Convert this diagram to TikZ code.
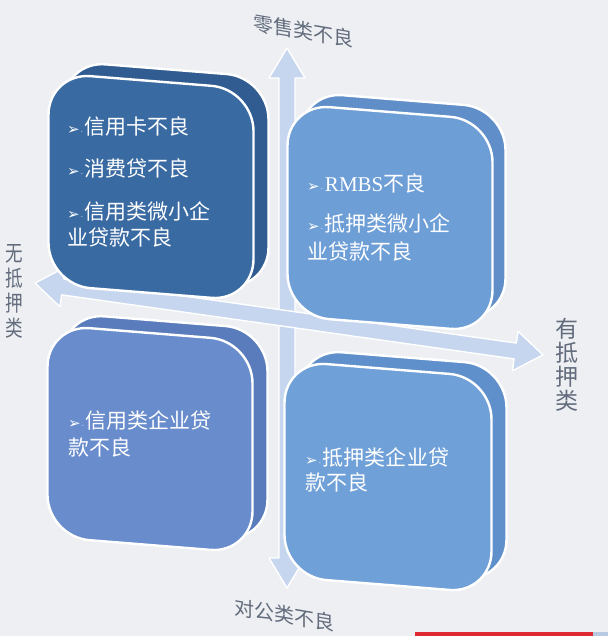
\documentclass[tikz,border=0pt]{standalone}
\usepackage{fontspec}
\newfontfamily\cjk{Noto Sans CJK SC}
\newfontfamily\dejavu{DejaVu Sans}
\definecolor{bg}{RGB}{237,239,243}
\definecolor{arrowc}{RGB}{198,214,238}
\definecolor{tlc}{RGB}{58,106,162}
\definecolor{tlback}{RGB}{48,92,146}
\definecolor{trc}{RGB}{110,158,214}
\definecolor{trback}{RGB}{96,142,200}
\definecolor{blc}{RGB}{104,140,204}
\definecolor{blback}{RGB}{90,124,188}
\definecolor{brc}{RGB}{112,160,216}
\definecolor{brback}{RGB}{96,144,203}
\definecolor{labc}{RGB}{98,108,124}
\definecolor{barred}{RGB}{222,40,50}
\definecolor{barblue}{RGB}{185,200,225}
\newcommand\bul{{\dejavu\fontsize{15}{15}\selectfont ➢}\hspace{1pt}{\dejavu\fontsize{7}{7}\selectfont ·}\hspace{2pt}}
\tikzset{
  facebox/.style={draw=white, line width=2.4pt, rounded corners=42pt, minimum width=205pt, minimum height=212pt, inner sep=0pt, transform shape},
  boxtext/.style={text=white, align=left, anchor=north west, inner sep=0pt, font=\cjk\fontsize{21}{26}\selectfont},
  bigarrow/.style={fill=arrowc, draw=white, line width=1.4pt, line join=round},
  axislabel/.style={text=labc, font=\cjk\fontsize{20}{24}\selectfont, inner sep=0pt}
}
\begin{document}
\begin{tikzpicture}[x=1pt,y=-1pt]
\fill[bg] (0,0) rectangle (608,636);
\useasboundingbox (0,0) rectangle (608,636);

% axes arrows
\draw[bigarrow] (287,48) -- (305,78) -- (295,78) -- (295,558) -- (305,558) -- (287,588)
  -- (269,558) -- (279,558) -- (279,78) -- (269,78) -- cycle;
\begin{scope}[shift={(35,283)}, rotate=-8.06]
\draw[bigarrow] (0,0) -- (28,-20) -- (28,-8) -- (485,-8) -- (485,-20) -- (513,0)
  -- (485,20) -- (485,8) -- (28,8) -- (28,20) -- cycle;
\end{scope}

% top-left box
\begin{scope}[shift={(151,187)}, yslant=-0.08]
\node[facebox, fill=tlback] (tlb) at (15,-13) {};
\node[facebox, fill=tlc] (tl) at (0,0) {};
\node[boxtext] (tlt) at (-84,-64) {\bul 信用卡不良\\[16pt]\bul 消费贷不良\\[17pt]\bul 信用类微小企\\业贷款不良};
\end{scope}

% top-right box
\begin{scope}[shift={(390,218)}, yslant=-0.08]
\node[facebox, fill=trback] (trb) at (13,-13) {};
\node[facebox, fill=trc] (tr) at (0,0) {};
\node[boxtext, font=\cjk\fontsize{21}{28}\selectfont] (trt) at (-83,-38) {\bul {\fontspec{Liberation Serif}RMBS}不良\\[12pt]\bul 抵押类微小企\\业贷款不良};
\end{scope}

% bottom-left box
\begin{scope}[shift={(150,439)}, yslant=-0.08]
\node[facebox, fill=blback] (blb) at (15,-13) {};
\node[facebox, fill=blc] (bl) at (0,0) {};
\node[boxtext, font=\cjk\fontsize{21}{27}\selectfont] (blt) at (-82,-22) {\bul 信用类企业贷\\款不良};
\end{scope}

% bottom-right box
\begin{scope}[shift={(388,477)}, yslant=-0.08]
\node[facebox, fill=brback, minimum width=207pt, minimum height=216pt] (brb) at (15,-13) {};
\node[facebox, fill=brc, minimum width=207pt, minimum height=216pt] (br) at (0,0) {};
\node[boxtext, font=\cjk\fontsize{21}{25}\selectfont] (brt) at (-83,-23) {\bul 抵押类企业贷\\款不良};
\end{scope}

% axis labels
\node[axislabel, yslant=-0.17, transform shape] (ltop) at (303,31) {零售类不良};
\node[axislabel, yslant=-0.17, transform shape] (lbot) at (284,615) {对公类不良};
\node[axislabel, align=center, font=\cjk\fontsize{22}{25}\selectfont, xscale=0.8, transform shape] (lleft) at (14,291) {无\\抵\\押\\类};
\node[axislabel, align=center, font=\cjk\fontsize{23}{24}\selectfont] (lright) at (567,365) {有\\抵\\押\\类};

% bottom bar
\fill[barred] (415,632) rectangle (593,636);
\fill[barblue] (593,632) rectangle (608,636);
\end{tikzpicture}
\end{document}
